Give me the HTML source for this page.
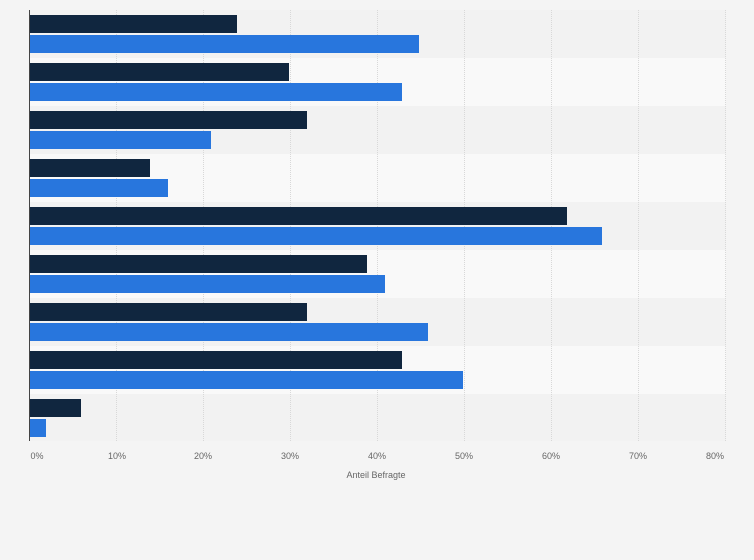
<!DOCTYPE html><html><head><style>
body{margin:0;width:754px;height:560px;background:#f4f4f4;position:relative;overflow:hidden;font-family:"Liberation Sans",sans-serif}
div{position:absolute}
.g{top:10px;height:431px;width:0;border-left:1px dotted #d8d8d8}
.t{top:451px;font-size:9px;color:#666;width:40px;text-align:center}
.d{background:#10263f;height:18px;left:30px}
.b{background:#2876dd;height:18px;left:30px}
</style></head><body>
<div style="left:30px;top:10px;width:696px;height:48px;background:#f2f2f2"></div>
<div style="left:30px;top:58px;width:696px;height:48px;background:#f9f9f9"></div>
<div style="left:30px;top:106px;width:696px;height:48px;background:#f2f2f2"></div>
<div style="left:30px;top:154px;width:696px;height:48px;background:#f9f9f9"></div>
<div style="left:30px;top:202px;width:696px;height:48px;background:#f2f2f2"></div>
<div style="left:30px;top:250px;width:696px;height:48px;background:#f9f9f9"></div>
<div style="left:30px;top:298px;width:696px;height:48px;background:#f2f2f2"></div>
<div style="left:30px;top:346px;width:696px;height:48px;background:#f9f9f9"></div>
<div style="left:30px;top:394px;width:696px;height:47px;background:#f2f2f2"></div>
<div class="g" style="left:116px"></div><div class="g" style="left:203px"></div><div class="g" style="left:290px"></div><div class="g" style="left:377px"></div><div class="g" style="left:464px"></div><div class="g" style="left:551px"></div><div class="g" style="left:638px"></div><div class="g" style="left:725px"></div>
<div class="d" style="top:15px;width:207px"></div><div class="b" style="top:35px;width:389px"></div>
<div class="d" style="top:63px;width:259px"></div><div class="b" style="top:83px;width:372px"></div>
<div class="d" style="top:111px;width:277px"></div><div class="b" style="top:131px;width:181px"></div>
<div class="d" style="top:159px;width:120px"></div><div class="b" style="top:179px;width:138px"></div>
<div class="d" style="top:207px;width:537px"></div><div class="b" style="top:227px;width:572px"></div>
<div class="d" style="top:255px;width:337px"></div><div class="b" style="top:275px;width:355px"></div>
<div class="d" style="top:303px;width:277px"></div><div class="b" style="top:323px;width:398px"></div>
<div class="d" style="top:351px;width:372px"></div><div class="b" style="top:371px;width:433px"></div>
<div class="d" style="top:399px;width:51px"></div><div class="b" style="top:419px;width:16px"></div>
<div style="left:29px;top:10px;width:1px;height:431px;background:#444"></div>
<div class="t" style="left:17px">0%</div><div class="t" style="left:97px">10%</div><div class="t" style="left:183px">20%</div><div class="t" style="left:270px">30%</div><div class="t" style="left:357px">40%</div><div class="t" style="left:444px">50%</div><div class="t" style="left:531px">60%</div><div class="t" style="left:618px">70%</div><div class="t" style="left:695px">80%</div>
<div style="left:326px;top:470px;width:100px;text-align:center;font-size:9px;color:#666">Anteil Befragte</div>
</body></html>
